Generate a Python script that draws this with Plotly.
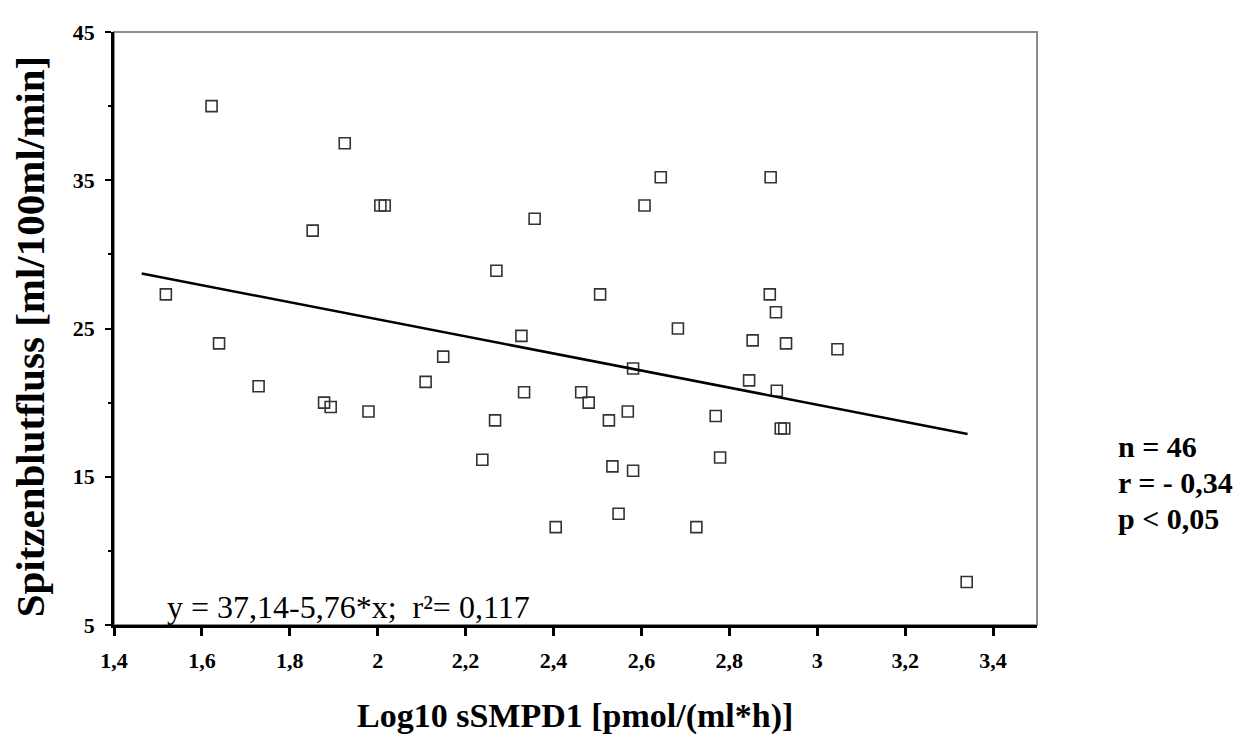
import plotly.graph_objects as go

# values
log_smpd1 = [1.622, 1.925, 2.006, 2.016, 1.852, 1.518, 1.639, 1.729, 1.878, 1.893,
             1.979, 2.149, 2.109, 2.644, 2.894, 2.607, 2.357, 2.270, 2.506, 2.892,
             2.906, 2.683, 2.327, 2.853, 2.929, 3.046, 2.581, 2.845, 2.908, 2.333,
             2.463, 2.480, 2.569, 2.526, 2.267, 2.769, 2.925, 2.917, 2.238, 2.779,
             2.534, 2.581, 2.725, 3.340, 2.405, 2.548]
peak_flow = [40.0, 37.5, 33.3, 33.3, 31.6, 27.3, 24.0, 21.1, 20.0, 19.7,
             19.4, 23.1, 21.4, 35.2, 35.2, 33.3, 32.4, 28.9, 27.3, 27.3,
             26.1, 25.0, 24.5, 24.2, 24.0, 23.6, 22.3, 21.5, 20.8, 20.7,
             20.7, 20.0, 19.4, 18.8, 18.8, 19.1, 18.25, 18.25, 16.15, 16.3,
             15.7, 15.4, 11.6, 7.9, 11.6, 12.5]

# regression from the chart text
intercept = 37.14
slope = -5.76
fit_x = [1.463, 3.342]
fit_y = [intercept + slope * v for v in fit_x]

x_ticks = [1.4, 1.6, 1.8, 2.0, 2.2, 2.4, 2.6, 2.8, 3.0, 3.2, 3.4]
x_labels = ["1,4", "1,6", "1,8", "2", "2,2", "2,4", "2,6", "2,8", "3", "3,2", "3,4"]
y_ticks = [5, 15, 25, 35, 45]
stats_lines = ["n = 46", "r = - 0,34", "p < 0,05"]

SERIF = "Liberation Serif, Times New Roman, serif"

# the page body has an 8px margin, so work in page pixels and shift
PAD = 8
W, H = 1257 - 2 * PAD, 754 - 2 * PAD
L, R, T, B = 114 - PAD, 1037 - PAD, 21 - PAD, 625 - PAD

fig = go.Figure()

fig.add_trace(go.Scatter(
    x=log_smpd1, y=peak_flow, mode="markers",
    marker=dict(symbol="square-open", size=11, color="#333333", line=dict(width=1.6)),
    showlegend=False, hoverinfo="x+y"
))

fig.add_trace(go.Scatter(
    x=fit_x, y=fit_y, mode="lines",
    line=dict(color="black", width=2.5),
    showlegend=False, hoverinfo="skip"
))

# gray frame on top / right
fig.add_shape(type="rect", xref="x domain", yref="y domain", x0=0, x1=1, y0=0, y1=1,
              line=dict(color="#8c8c8c", width=2), layer="below")

fig.update_xaxes(
    range=[1.4, 3.5], tickvals=x_ticks, ticktext=x_labels,
    showline=True, linecolor="black", linewidth=2.5,
    ticks="outside", ticklen=8, tickwidth=2.5, tickcolor="black",
    ticklabelstandoff=6,
    tickfont=dict(family=SERIF, size=22, color="black", weight="bold"),
    showgrid=False, zeroline=False
)
fig.update_yaxes(
    range=[5, 45], tickvals=y_ticks,
    showline=True, linecolor="black", linewidth=2.5,
    ticks="outside", ticklen=6, tickwidth=2, tickcolor="black",
    minor=dict(tickvals=[10, 20, 30, 40], ticks="outside", ticklen=3, tickwidth=2, tickcolor="black"),
    ticklabelstandoff=6,
    tickfont=dict(family=SERIF, size=22, color="black", weight="bold"),
    showgrid=False, zeroline=False
)


def px(xp):
    return (xp - PAD - L) / (R - L)


def py(yp):
    return (B - (yp - PAD)) / (B - T)


fig.add_annotation(
    x=px(575), y=py(718), xref="paper", yref="paper", showarrow=False,
    text="<b>Log10 sSMPD1 [pmol/(ml*h)]</b>",
    font=dict(family=SERIF, size=34, color="black"), xanchor="center", yanchor="middle"
)
fig.add_annotation(
    x=px(30), y=py(331), xref="paper", yref="paper", showarrow=False, textangle=-90,
    text="<b>Spitzenblutfluss [ml/100ml/min]</b>",
    font=dict(family=SERIF, size=41, color="black"), xanchor="center", yanchor="middle"
)
fig.add_annotation(
    x=px(165), y=py(607), xref="paper", yref="paper", showarrow=False,
    text="y = 37,14-5,76*x;  r²= 0,117",
    font=dict(family=SERIF, size=32, color="black"), xanchor="left", yanchor="middle"
)
for i, line in enumerate(stats_lines):
    fig.add_annotation(
        x=px(1116), y=py(443 + 37 * i), xref="paper", yref="paper", showarrow=False,
        text="<b>" + line + "</b>",
        font=dict(family=SERIF, size=30, color="black"), xanchor="left", yanchor="middle"
    )

fig.update_layout(
    width=W, height=H,
    margin=dict(l=L, r=W - R, t=T, b=H - B),
    plot_bgcolor="white", paper_bgcolor="white",
    showlegend=False
)

fig.write_html("out.html")
